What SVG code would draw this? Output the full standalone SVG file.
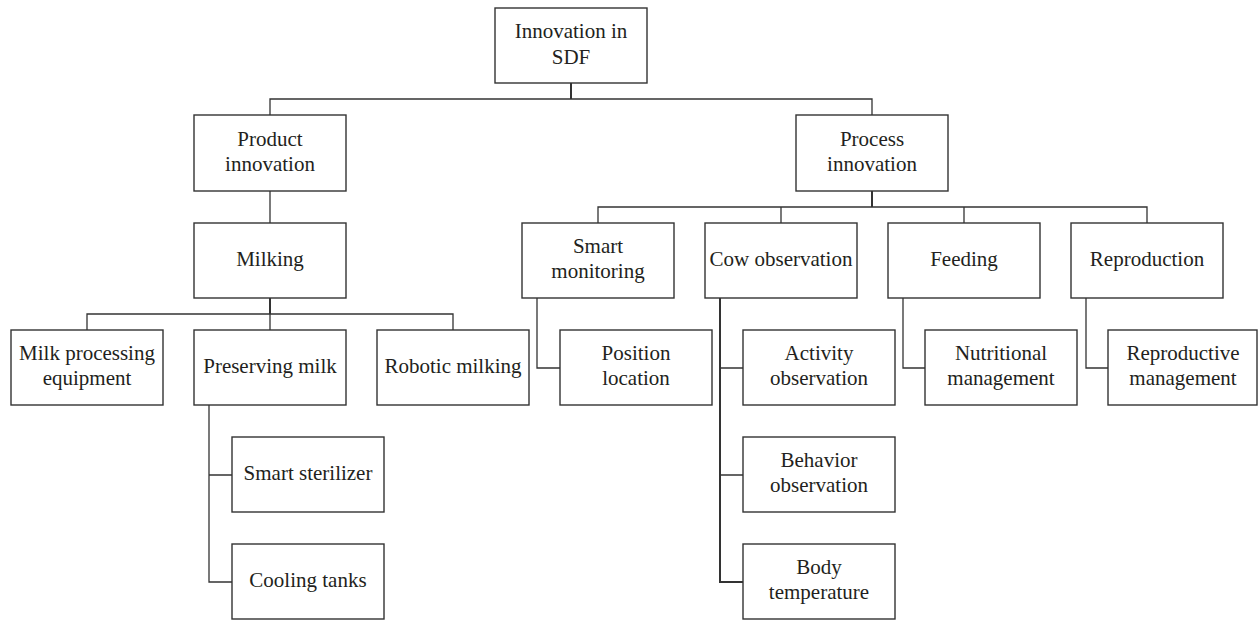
<svg xmlns="http://www.w3.org/2000/svg" width="1258" height="620" viewBox="0 0 1258 620">
<style>
rect.box{fill:#fff;stroke:#333;stroke-width:1.4}
text{font-family:"Liberation Serif","Times New Roman",serif;font-size:21px;fill:#231f20;text-anchor:middle}
.c path{fill:none;stroke:#333;stroke-width:1.3}
.c path.stem{stroke-width:2}
</style>
<rect width="1258" height="620" fill="#fff"/>
<g class="c" id="connectors">
<path class="stem" d="M571 83V99"/>
<path d="M270 115V99H872V115"/>
<path d="M270 191V223"/>
<path class="stem" d="M270 298V314"/>
<path d="M87 330V314H453V330M270 314V330"/>
<path class="stem" d="M872 191V207"/>
<path d="M598 223V207H1147V223M781 207V223M964 207V223"/>
<path d="M537 298V368H560"/>
<path class="stem" d="M720 298V582H743"/>
<path d="M720 368H743M720 475H743"/>
<path d="M903 298V368H925"/>
<path d="M1086 298V368H1108"/>
<path d="M209 405V582H232M209 475H232"/>
</g>
<g id="root"><rect class="box" x="495" y="8" width="152" height="75"/><text x="571" y="38">Innovation in</text><text x="571" y="63.5">SDF</text></g>
<g id="product"><rect class="box" x="194" y="115" width="152" height="76"/><text x="270" y="145.5">Product</text><text x="270" y="171">innovation</text></g>
<g id="process"><rect class="box" x="796" y="115" width="152" height="76"/><text x="872" y="145.5">Process</text><text x="872" y="171">innovation</text></g>
<g id="milking"><rect class="box" x="194" y="223" width="152" height="75"/><text x="270" y="265.5">Milking</text></g>
<g id="smart-monitoring"><rect class="box" x="522" y="223" width="152" height="75"/><text x="598" y="252.5">Smart</text><text x="598" y="278">monitoring</text></g>
<g id="cow-observation"><rect class="box" x="705" y="223" width="152" height="75"/><text x="781" y="265.5">Cow observation</text></g>
<g id="feeding"><rect class="box" x="888" y="223" width="152" height="75"/><text x="964" y="265.5">Feeding</text></g>
<g id="reproduction"><rect class="box" x="1071" y="223" width="152" height="75"/><text x="1147" y="265.5">Reproduction</text></g>
<g id="milk-processing"><rect class="box" x="11" y="330" width="152" height="75"/><text x="87" y="359.5">Milk processing</text><text x="87" y="385">equipment</text></g>
<g id="preserving-milk"><rect class="box" x="194" y="330" width="152" height="75"/><text x="270" y="372.5">Preserving milk</text></g>
<g id="robotic-milking"><rect class="box" x="377" y="330" width="152" height="75"/><text x="453" y="372.5">Robotic milking</text></g>
<g id="position-location"><rect class="box" x="560" y="330" width="152" height="75"/><text x="636" y="359.5">Position</text><text x="636" y="385">location</text></g>
<g id="activity-observation"><rect class="box" x="743" y="330" width="152" height="75"/><text x="819" y="359.5">Activity</text><text x="819" y="385">observation</text></g>
<g id="nutritional-management"><rect class="box" x="925" y="330" width="152" height="75"/><text x="1001" y="359.5">Nutritional</text><text x="1001" y="385">management</text></g>
<g id="reproductive-management"><rect class="box" x="1108" y="330" width="149" height="75"/><text x="1183" y="359.5">Reproductive</text><text x="1183" y="385">management</text></g>
<g id="smart-sterilizer"><rect class="box" x="232" y="437" width="152" height="75"/><text x="308" y="479.5">Smart sterilizer</text></g>
<g id="behavior-observation"><rect class="box" x="743" y="437" width="152" height="75"/><text x="819" y="466.5">Behavior</text><text x="819" y="492">observation</text></g>
<g id="cooling-tanks"><rect class="box" x="232" y="544" width="152" height="75"/><text x="308" y="586.5">Cooling tanks</text></g>
<g id="body-temperature"><rect class="box" x="743" y="544" width="152" height="75"/><text x="819" y="573.5">Body</text><text x="819" y="599">temperature</text></g>
</svg>
